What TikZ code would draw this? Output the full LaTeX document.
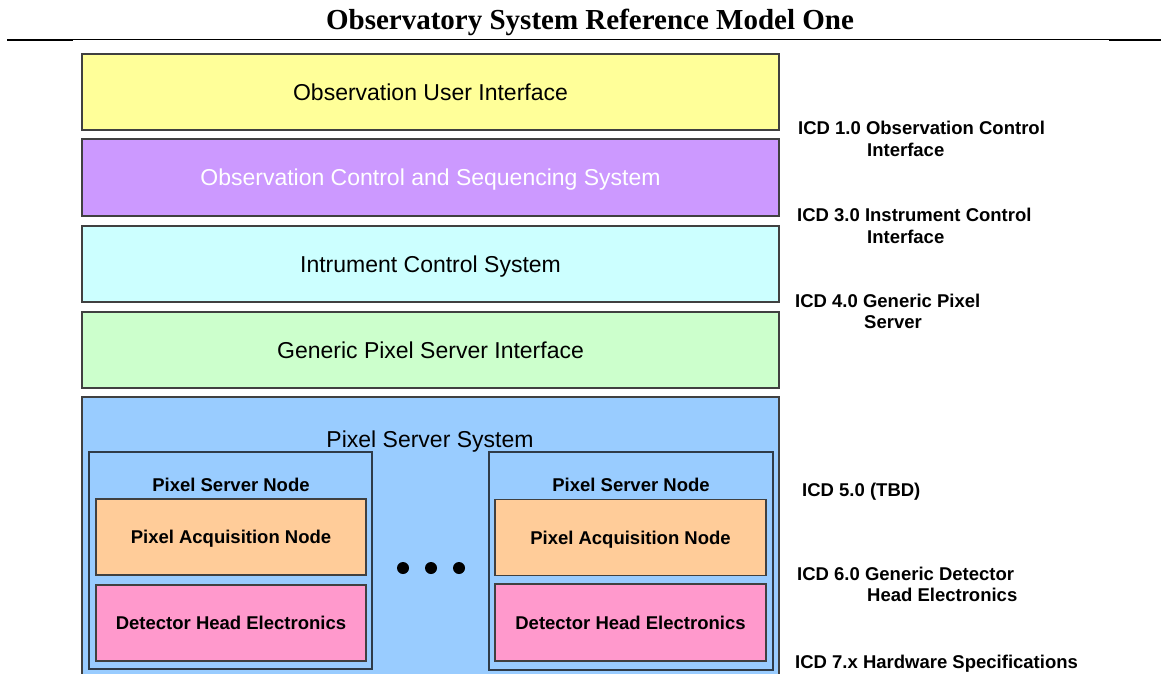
\documentclass[tikz,border=0pt]{standalone}
\usepackage{fontspec}
\setmainfont{Liberation Serif}
\setsansfont{Liberation Sans}
\newfontfamily\arialf{Liberation Sans}
\definecolor{cyellow}{HTML}{FFFF99}
\definecolor{cpurple}{HTML}{CC99FF}
\definecolor{ccyan}{HTML}{CCFFFF}
\definecolor{cgreen}{HTML}{CCFFCC}
\definecolor{cblue}{HTML}{99CCFF}
\definecolor{corange}{HTML}{FFCC99}
\definecolor{cpink}{HTML}{FF99CC}
\definecolor{cborder}{HTML}{404040}
\definecolor{cnode}{HTML}{2F3B48}
\begin{document}
\begin{tikzpicture}[x=1pt,y=-1pt,
  layer/.style={draw=cborder, line width=1.6pt, minimum width=697pt, minimum height=76pt,
    inner sep=0pt, outer sep=0pt, font=\arialf\fontsize{23}{27}\selectfont,
    text height=16.5pt, text depth=0pt},
  psnode/.style={draw=cnode, line width=1.3pt, minimum width=283pt, minimum height=217pt,
    inner sep=0pt, outer sep=0pt},
  inbox/.style={draw=cborder, line width=1.3pt, minimum width=270pt, minimum height=76pt,
    inner sep=0pt, outer sep=0pt, font=\arialf\bfseries\fontsize{18.5}{22}\selectfont,
    text height=13.3pt, text depth=0pt},
  boldtxt/.style={inner sep=0pt, font=\arialf\bfseries\fontsize{18.5}{22}\selectfont,
    text height=13.3pt, text depth=0pt},
  regtxt/.style={inner sep=0pt, font=\arialf\fontsize{23}{27}\selectfont,
    text height=16.5pt, text depth=0pt},
  icd/.style={anchor=base west, inner sep=0pt, font=\arialf\bfseries\fontsize{18.5}{22}\selectfont},
  dotc/.style={circle, fill=black, minimum size=12pt, inner sep=0pt},
  titletxt/.style={inner sep=0pt, font=\bfseries\fontsize{29}{33}\selectfont}
]
\useasboundingbox (0,0) rectangle (1161,674);
\clip (0,0) rectangle (1161,674);
\fill[white] (0,0) rectangle (1161,674);

% title and rule
\node[titletxt] (title) at (590,22) {Observatory System Reference Model One};
\draw[line width=1pt] (7,40) -- (1161,40);
\draw[line width=2.2pt] (7,40) -- (73,40);
\draw[line width=2.2pt] (1109,40) -- (1161,40);

% layers
\node[layer, fill=cyellow] (oui) at (430.5,92) {Observation User Interface};
\node[layer, fill=cpurple, text=white, minimum height=77pt] (ocs) at (430.5,177.5) {Observation Control and Sequencing System};
\node[layer, fill=ccyan] (ics) at (430.5,264) {Intrument Control System};
\node[layer, fill=cgreen] (gpsi) at (430.5,350) {Generic Pixel Server Interface};
\node[layer, fill=cblue, minimum height=303pt] (pss) at (430.5,548.5) {};
\node[regtxt] (psstxt) at (430,439) {Pixel Server System};

% left pixel server node
\node[psnode] (psnL) at (230.5,560.5) {};
\node[boldtxt] (psnLt) at (231,485) {Pixel Server Node};
\node[inbox, fill=corange] (panL) at (231,537) {Pixel Acquisition Node};
\node[inbox, fill=cpink] (dheL) at (231,623) {Detector Head Electronics};

% right pixel server node
\node[psnode, minimum width=284pt, minimum height=218pt] (psnR) at (631,561) {};
\node[boldtxt] (psnRt) at (631,485) {Pixel Server Node};
\node[inbox, fill=corange, minimum width=271pt] (panR) at (630.5,537.5) {Pixel Acquisition Node};
\node[inbox, fill=cpink, minimum width=271pt, minimum height=77pt] (dheR) at (630.5,622.5) {Detector Head Electronics};

% dots
\node[dotc] (d1) at (403,568) {};
\node[dotc] (d2) at (431,568) {};
\node[dotc] (d3) at (459,568) {};

% ICD labels
\node[icd] (icd1) at (798,135) {ICD 1.0 Observation Control};
\node[icd] (icd1b) at (867,157) {Interface};
\node[icd] (icd3) at (797,221) {ICD 3.0 Instrument Control};
\node[icd] (icd3b) at (867,243) {Interface};
\node[icd] (icd4) at (795,307) {ICD 4.0 Generic Pixel};
\node[icd] (icd4b) at (864,328) {Server};
\node[icd] (icd5) at (802,496) {ICD 5.0 (TBD)};
\node[icd] (icd6) at (797,580) {ICD 6.0 Generic Detector};
\node[icd] (icd6b) at (867,601.5) {Head Electronics};
\node[icd] (icd7) at (795,668) {ICD 7.x Hardware Specifications};
\end{tikzpicture}
\end{document}
